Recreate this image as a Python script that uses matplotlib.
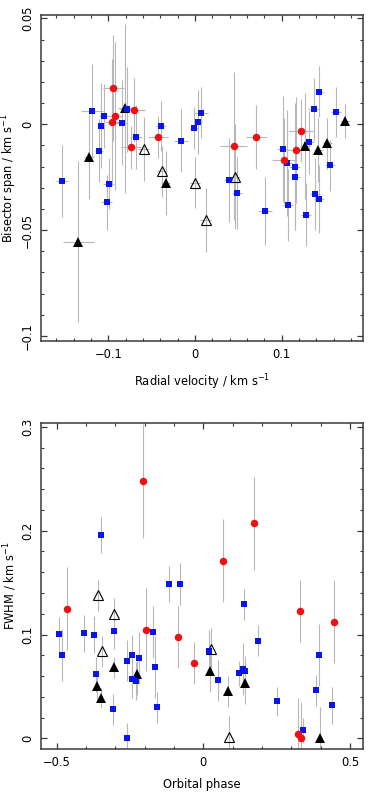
import matplotlib
matplotlib.use("Agg")
import matplotlib.pyplot as plt
from matplotlib.ticker import MultipleLocator, FuncFormatter

# ---------------- Top panel: bisector span vs radial velocity ----------------
blue_rv = [-0.1534, -0.119, -0.105, -0.1084, -0.1107, -0.0996, -0.1018, -0.0846, -0.0788, -0.068,
           -0.0389, -0.0165, -0.0012, 0.0035, 0.0073, 0.0392, 0.0488, 0.1011, 0.1065, 0.115,
           0.1157, 0.1318, 0.1369, 0.1434, 0.156, 0.163, 0.1388, 0.1434, 0.0811, 0.1077, 0.128]
blue_bs = [-0.0267, 0.0064, 0.0038, -0.0007, -0.0125, -0.028, -0.0368, 0.0008, 0.0071, -0.0059,
           -0.0008, -0.0077, -0.0017, 0.0011, 0.0055, -0.0263, -0.0326, -0.0118, -0.0184, -0.020,
           -0.025, -0.0085, 0.0071, 0.0154, -0.0194, 0.0058, -0.0328, -0.0354, -0.0411, -0.038, -0.0427]
blue_rv_err = [0.007, 0.013, 0.006, 0.005, 0.005, 0.006, 0.006, 0.006, 0.008, 0.007,
               0.006, 0.008, 0.005, 0.005, 0.008, 0.006, 0.006, 0.006, 0.005, 0.006,
               0.005, 0.006, 0.006, 0.005, 0.006, 0.006, 0.006, 0.006, 0.008, 0.006, 0.006]
blue_bs_err = [0.017, 0.022, 0.015, 0.02, 0.015, 0.012, 0.013, 0.02, 0.02, 0.015,
               0.012, 0.015, 0.01, 0.015, 0.012, 0.02, 0.017, 0.025, 0.025, 0.03,
               0.025, 0.015, 0.015, 0.012, 0.012, 0.012, 0.017, 0.016, 0.016, 0.017, 0.015]

red_rv = [-0.0942, -0.0923, -0.0957, -0.0704, -0.0738, -0.0427, 0.0446, 0.0707, 0.123, 0.1161, 0.1027]
red_bs = [0.017, 0.0041, 0.0009, 0.0068, -0.0109, -0.0061, -0.0101, -0.0061, -0.003, -0.012, -0.017]
red_rv_err = [0.012, 0.008, 0.008, 0.013, 0.012, 0.012, 0.016, 0.012, 0.015, 0.01, 0.014]
red_bs_err = [0.025, 0.035, 0.03, 0.015, 0.01, 0.01, 0.035, 0.015, 0.015, 0.025, 0.02]

blk_rv = [-0.1223, -0.0807, -0.0338, -0.1346, 0.1272, 0.1426, 0.153, 0.1734]
blk_bs = [-0.0153, 0.0075, -0.0278, -0.0554, -0.0101, -0.0121, -0.009, 0.0017]
blk_rv_err = [0.006, 0.008, 0.005, 0.018, 0.006, 0.005, 0.005, 0.005]
blk_bs_err = [0.02, 0.04, 0.015, 0.038, 0.025, 0.015, 0.012, 0.008]

opn_rv = [-0.0592, -0.038, 0.0004, 0.0465, 0.0123]
opn_bs = [-0.0118, -0.0222, -0.0276, -0.0247, -0.0452]
opn_rv_err = [0.006, 0.006, 0.006, 0.006, 0.006]
opn_bs_err = [0.015, 0.012, 0.012, 0.025, 0.015]

# ---------------- Bottom panel: FWHM vs orbital phase ----------------
blue_ph = [-0.492, -0.482, -0.407, -0.373, -0.367, -0.305, -0.309, -0.259, -0.261, -0.242,
           -0.2205, -0.242, -0.2297, -0.170, -0.165, -0.158, 0.019, 0.051, 0.121, 0.136,
           0.142, 0.138, 0.186, 0.25, 0.341, 0.383, 0.393, 0.438, -0.348, -0.117, -0.081]
blue_fw = [0.1003, 0.0804, 0.1013, 0.100, 0.0616, 0.1039, 0.0282, 0.0, 0.075, 0.080,
           0.077, 0.057, 0.0551, 0.1029, 0.0689, 0.0298, 0.084, 0.0558, 0.0625, 0.0667,
           0.0648, 0.129, 0.094, 0.0356, 0.008, 0.0462, 0.0804, 0.0317, 0.1958, 0.1487, 0.1487]
blue_fw_err = [0.017, 0.025, 0.018, 0.018, 0.017, 0.018, 0.015, 0.015, 0.02, 0.02,
               0.025, 0.018, 0.018, 0.025, 0.03, 0.015, 0.02, 0.02, 0.012, 0.025,
               0.015, 0.015, 0.015, 0.014, 0.012, 0.015, 0.03, 0.018, 0.017, 0.017, 0.02]

red_ph = [-0.465, -0.1966, -0.085, -0.0307, 0.3306, 0.444, 0.3214, 0.3316, -0.2058, 0.0658, 0.1725]
red_fw = [0.1247, 0.1048, 0.0977, 0.0727, 0.1228, 0.1125, 0.0041, 0.0003, 0.2478, 0.1712, 0.2071]
red_fw_err = [0.04, 0.04, 0.03, 0.02, 0.03, 0.04, 0.035, 0.035, 0.055, 0.04, 0.045]

blk_ph = [-0.361, -0.35, -0.3047, -0.225, 0.0225, 0.085, 0.1408, 0.3964]
blk_fw = [0.0503, 0.0388, 0.0683, 0.0616, 0.0648, 0.0455, 0.0535, 0.0006]
blk_fw_err = [0.012, 0.01, 0.01, 0.02, 0.02, 0.015, 0.02, 0.03]

opn_ph = [-0.358, -0.3033, -0.3466, 0.026, 0.0873]
opn_fw = [0.1378, 0.1202, 0.0837, 0.0862, 0.0015]
opn_fw_err = [0.015, 0.015, 0.015, 0.02, 0.02]

# ---------------- Figure ----------------
plt.rcParams['font.family'] = ['DejaVu Sans']
FS = 8.3
ERRC = '#b8b8b8'
FRAME = '#3a3a3a'

fig = plt.figure(figsize=(3.71, 7.93), dpi=100)
ax1 = fig.add_axes([0.1105, 0.570, 0.868, 0.411])
ax2 = fig.add_axes([0.1105, 0.0559, 0.868, 0.411])


def fmt(v, pos):
    if abs(v) < 1e-9:
        return '0'
    s = ('%g' % v)
    return s.replace('-', '\u2212')


def draw(ax, x, y, xerr, yerr, marker, ms, fc, ec, z):
    ax.errorbar(x, y, xerr=xerr, yerr=yerr, fmt='none', ecolor=ERRC, elinewidth=0.8,
                capsize=0, zorder=1)
    ax.plot(x, y, linestyle='none', marker=marker, markersize=ms, markerfacecolor=fc,
            markeredgecolor=ec, markeredgewidth=0.8 if fc == 'none' else 0.0, zorder=z)


# top
draw(ax1, blk_rv, blk_bs, blk_rv_err, blk_bs_err, '^', 7.0, 'black', 'black', 3)
draw(ax1, opn_rv, opn_bs, opn_rv_err, opn_bs_err, '^', 7.0, 'none', 'black', 3)
draw(ax1, blue_rv, blue_bs, blue_rv_err, blue_bs_err, 's', 4.9, '#0a14f0', '#0a14f0', 4)
draw(ax1, red_rv, red_bs, red_rv_err, red_bs_err, 'o', 5.4, '#f01010', '#f01010', 5)

ax1.set_xlim(-0.1776, 0.194)
ax1.set_ylim(-0.1024, 0.0516)
ax1.xaxis.set_major_locator(MultipleLocator(0.1))
ax1.xaxis.set_minor_locator(MultipleLocator(0.02))
ax1.yaxis.set_major_locator(MultipleLocator(0.05))
ax1.yaxis.set_minor_locator(MultipleLocator(0.01))
ax1.set_xlabel('Radial velocity / km s$^{-1}$', fontsize=FS, labelpad=8)
ax1.set_ylabel('Bisector span / km s$^{-1}$', fontsize=FS)
ax1.yaxis.set_label_coords(-0.068, 0.5)

# bottom
draw(ax2, blk_ph, blk_fw, None, blk_fw_err, '^', 7.0, 'black', 'black', 3)
draw(ax2, opn_ph, opn_fw, None, opn_fw_err, '^', 7.0, 'none', 'black', 3)
draw(ax2, blue_ph, blue_fw, None, blue_fw_err, 's', 4.9, '#0a14f0', '#0a14f0', 4)
draw(ax2, red_ph, red_fw, None, red_fw_err, 'o', 5.4, '#f01010', '#f01010', 5)

ax2.set_xlim(-0.553, 0.544)
ax2.set_ylim(-0.0099, 0.304)
ax2.xaxis.set_major_locator(MultipleLocator(0.5))
ax2.xaxis.set_minor_locator(MultipleLocator(0.1))
ax2.yaxis.set_major_locator(MultipleLocator(0.1))
ax2.yaxis.set_minor_locator(MultipleLocator(0.02))
ax2.set_xlabel('Orbital phase', fontsize=FS, labelpad=7)
ax2.set_ylabel('FWHM / km s$^{-1}$', fontsize=FS)
ax2.yaxis.set_label_coords(-0.068, 0.5)

for ax in (ax1, ax2):
    ax.xaxis.set_major_formatter(FuncFormatter(fmt))
    ax.yaxis.set_major_formatter(FuncFormatter(fmt))
    ax.tick_params(which='both', direction='in', top=True, right=True, color=FRAME,
                   labelsize=FS)
    ax.tick_params(which='major', length=4.5, width=0.9, pad=5)
    ax.tick_params(which='minor', length=2.5, width=0.8)
    for lab in ax.get_yticklabels():
        lab.set_rotation(90)
        lab.set_va('center')
    for sp in ax.spines.values():
        sp.set_color(FRAME)
        sp.set_linewidth(1.1)

fig.savefig('out.png', dpi=100)
